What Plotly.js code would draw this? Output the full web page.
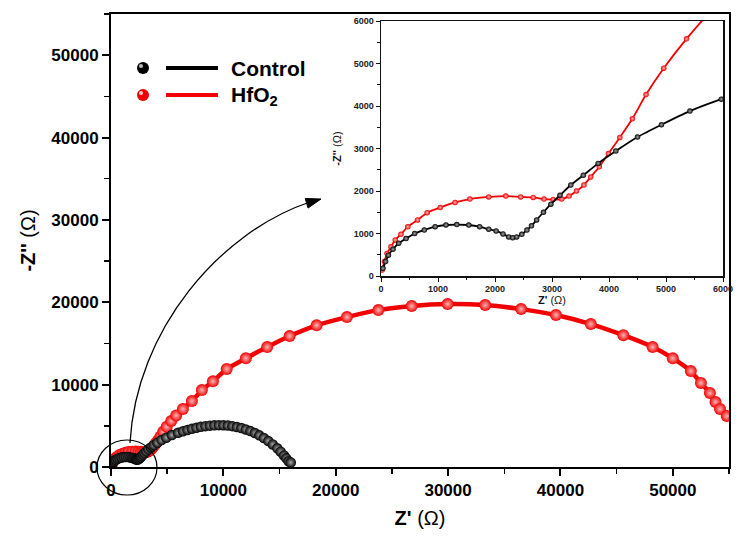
<!DOCTYPE html>
<html>
<head>
<meta charset="utf-8">
<script src="https://cdn.plot.ly/plotly-3.0.1.min.js"></script>
<style>html,body{margin:0;padding:0;background:#fff;}#chart{width:737px;height:543px;}</style>
</head>
<body>
<div id="chart"></div>
<script>
// ---- data (Z' and -Z'' in ohm) ----
const controlZre = [35, 80, 130, 210, 310, 440, 590, 760, 950, 1140, 1330, 1540, 1730, 1890, 2020, 2140, 2240, 2310, 2380, 2470, 2560, 2640, 2730, 2850, 2980, 3140, 3330, 3550, 3810, 4120, 4500, 4920, 5420, 5970,
  6400, 6800, 7200, 7600, 8000, 8400, 8800, 9200, 9600, 10000, 10400, 10800, 11200, 11600, 12000, 12400, 12800, 13200, 13600, 14000, 14400, 14800, 15100, 15400, 15600, 15800, 16000];
const controlZim = [180, 340, 490, 630, 770, 880, 1000, 1080, 1160, 1200, 1210, 1200, 1160, 1100, 1060, 990, 920, 900, 920, 980, 1080, 1180, 1320, 1500, 1690, 1900, 2140, 2370, 2650, 2940, 3270, 3560, 3880, 4160,
  4350, 4500, 4650, 4770, 4880, 4960, 5020, 5060, 5080, 5070, 5030, 4960, 4860, 4730, 4560, 4360, 4120, 3840, 3520, 3150, 2740, 2270, 1860, 1400, 1050, 700, 550];
const hfo2Zre = [20, 60, 105, 175, 250, 350, 470, 640, 810, 1040, 1300, 1560, 1890, 2190, 2450, 2670, 2860, 3020, 3170, 3300, 3430, 3560, 3680, 3830, 3990, 4190, 4410, 4650, 4960, 5360,
  5800, 6400, 7200, 8090, 9070, 10300, 12000, 13900, 15900, 18300, 21000, 23800, 26760, 29960, 33300, 36500, 39600, 42700, 45600, 48200, 50000, 51600, 52500, 53300, 53800, 54200, 54800];
const hfo2Zim = [140, 340, 530, 690, 850, 980, 1160, 1320, 1490, 1610, 1730, 1810, 1860, 1880, 1860, 1850, 1810, 1800, 1810, 1880, 2000, 2140, 2330, 2570, 2880, 3260, 3700, 4270, 4890, 5580,
  6250, 7040, 8000, 9340, 10400, 11900, 13200, 14560, 15900, 17200, 18200, 19050, 19540, 19780, 19660, 19170, 18450, 17350, 16000, 14560, 13200, 11650, 10200, 8980, 7890, 7040, 6190];
const seriesNames = ['Control', 'HfO<sub>2</sub>'];
const mainTicks = [0, 10000, 20000, 30000, 40000, 50000];
const insetTicks = [0, 1000, 2000, 3000, 4000, 5000, 6000];

// ---- layout helpers (pixel -> paper) ----
const L = 111, R = 8, T = 14, B = 76, W = 737, H = 543;
const PW = W - L - R, PH = H - T - B;
const px = X => (X - L) / PW;
const py = Y => (H - B - Y) / PH;

const RED = '#f20000', BLK = '#000000';
const boldFont = (s, c) => ({family: 'Liberation Sans, Arial, sans-serif', size: s, color: c || '#000', weight: 'bold'});

function trace(x, y, color, hi, xa, ya, msize, lw) {
  return {
    x: x, y: y, xaxis: xa, yaxis: ya, type: 'scatter', mode: 'lines+markers', showlegend: false,
    line: {color: color, width: lw, shape: 'spline', smoothing: 0.6},
    marker: {color: color, size: msize, gradient: {type: 'radial', color: hi}, line: {width: 0}},
    cliponaxis: true
  };
}

const data = [
  trace(hfo2Zre, hfo2Zim, RED, '#ffb5b5', 'x', 'y', 12, 4.5),
  trace(controlZre, controlZim, BLK, '#a8a8a8', 'x', 'y', 10.5, 4),
  trace(hfo2Zre, hfo2Zim, RED, '#ffb5b5', 'x2', 'y2', 5.5, 1.8),
  trace(controlZre, controlZim, BLK, '#a8a8a8', 'x2', 'y2', 5.5, 1.8)
];

// curved arrow & arrowhead
const tip = [321, 199];
const ux = 0.959, uy = -0.284, nx = 0.284, ny = 0.959;
const bx = tip[0] - 15 * ux, by = tip[1] - 15 * uy;
const head = `M ${px(tip[0])} ${py(tip[1])} L ${px(bx + 5 * nx)} ${py(by + 5 * ny)} L ${px(bx - 5 * nx)} ${py(by - 5 * ny)} Z`;
const curve = `M ${px(130)} ${py(443)} C ${px(136)} ${py(330)} ${px(220)} ${py(232)} ${px(310)} ${py(202)}`;

const shapes = [
  {type: 'circle', xref: 'paper', yref: 'paper', x0: px(97), x1: px(157), y0: py(495), y1: py(440), line: {color: '#000', width: 1.2}},
  {type: 'path', xref: 'paper', yref: 'paper', path: curve, line: {color: '#000', width: 1.3}},
  {type: 'path', xref: 'paper', yref: 'paper', path: head, fillcolor: '#000', line: {color: '#000', width: 1}},
  // legend
  {type: 'line', xref: 'paper', yref: 'paper', x0: px(166), x1: px(218), y0: py(68), y1: py(68), line: {color: BLK, width: 4}},
  {type: 'line', xref: 'paper', yref: 'paper', x0: px(166), x1: px(218), y0: py(95), y1: py(95), line: {color: RED, width: 4}},
  {type: 'circle', xref: 'paper', yref: 'paper', x0: px(137), x1: px(149), y0: py(74), y1: py(62), fillcolor: BLK, line: {width: 0}},
  {type: 'circle', xref: 'paper', yref: 'paper', x0: px(139), x1: px(143), y0: py(68), y1: py(64), fillcolor: '#bbb', line: {width: 0}},
  {type: 'circle', xref: 'paper', yref: 'paper', x0: px(137), x1: px(149), y0: py(101), y1: py(89), fillcolor: RED, line: {width: 0}},
  {type: 'circle', xref: 'paper', yref: 'paper', x0: px(139), x1: px(143), y0: py(95), y1: py(91), fillcolor: '#ffc8c8', line: {width: 0}}
];

const annotations = [
  {xref: 'paper', yref: 'paper', x: px(229), y: py(69), xanchor: 'left', yanchor: 'middle', showarrow: false, text: seriesNames[0], font: boldFont(21)},
  {xref: 'paper', yref: 'paper', x: px(229), y: py(96), xanchor: 'left', yanchor: 'middle', showarrow: false, text: seriesNames[1], font: boldFont(21)}
];

const layout = {
  width: W, height: H,
  margin: {l: L, r: R, t: T, b: B, pad: 0},
  paper_bgcolor: '#fff', plot_bgcolor: 'rgba(0,0,0,0)',
  showlegend: false,
  xaxis: {
    domain: [0, 1], range: [0, 55000], tickvals: mainTicks, ticktext: mainTicks.map(String),
    showgrid: false, zeroline: false, showline: true, mirror: true, linecolor: '#000', linewidth: 2,
    ticks: 'outside', ticklen: 7, tickwidth: 2, tickcolor: '#000',
    minor: {dtick: 5000, tick0: 0, ticks: 'outside', ticklen: 5, tickwidth: 1.5, tickcolor: '#000', showgrid: false},
    tickfont: boldFont(17),
    title: {text: "<b>Z'</b> (Ω)", font: {family: 'Liberation Sans, Arial, sans-serif', size: 20, color: '#000'}, standoff: 12}
  },
  yaxis: {
    domain: [0, 1], range: [0, 55000], tickvals: mainTicks, ticktext: mainTicks.map(String),
    showgrid: false, zeroline: false, showline: true, mirror: true, linecolor: '#000', linewidth: 2,
    ticks: 'outside', ticklen: 7, tickwidth: 2, tickcolor: '#000',
    minor: {dtick: 5000, tick0: 0, ticks: 'outside', ticklen: 5, tickwidth: 1.5, tickcolor: '#000', showgrid: false},
    tickfont: boldFont(17),
    title: {text: "<b>-Z''</b> (Ω)", font: {family: 'Liberation Sans, Arial, sans-serif', size: 20, color: '#000'}, standoff: 10}
  },
  xaxis2: {
    anchor: 'y2', domain: [px(381), px(723)], range: [0, 6000], tickvals: insetTicks, ticktext: insetTicks.map(String),
    showgrid: false, zeroline: false, showline: true, mirror: true, linecolor: '#111', linewidth: 1.5,
    ticks: 'outside', ticklen: 4, tickwidth: 1, tickcolor: '#111',
    minor: {dtick: 500, tick0: 0, ticks: 'outside', ticklen: 2.5, tickwidth: 1, tickcolor: '#111', showgrid: false},
    tickfont: boldFont(9, '#222'),
    title: {text: "<b>Z'</b> (Ω)", font: {family: 'Liberation Sans, Arial, sans-serif', size: 11, color: '#111'}, standoff: 1}
  },
  yaxis2: {
    anchor: 'x2', domain: [py(276), py(21)], range: [0, 6000], tickvals: insetTicks, ticktext: insetTicks.map(String),
    showgrid: false, zeroline: false, showline: true, mirror: true, linecolor: '#111', linewidth: 1.5,
    ticks: 'outside', ticklen: 4, tickwidth: 1, tickcolor: '#111',
    minor: {dtick: 500, tick0: 0, ticks: 'outside', ticklen: 2.5, tickwidth: 1, tickcolor: '#111', showgrid: false},
    tickfont: boldFont(9, '#222'),
    title: {text: "<b>-Z''</b> (Ω)", font: {family: 'Liberation Sans, Arial, sans-serif', size: 11, color: '#111'}, standoff: 10}
  },
  shapes: shapes,
  annotations: annotations
};

Plotly.newPlot('chart', data, layout, {displayModeBar: false, staticPlot: true});
</script>
</body>
</html>
